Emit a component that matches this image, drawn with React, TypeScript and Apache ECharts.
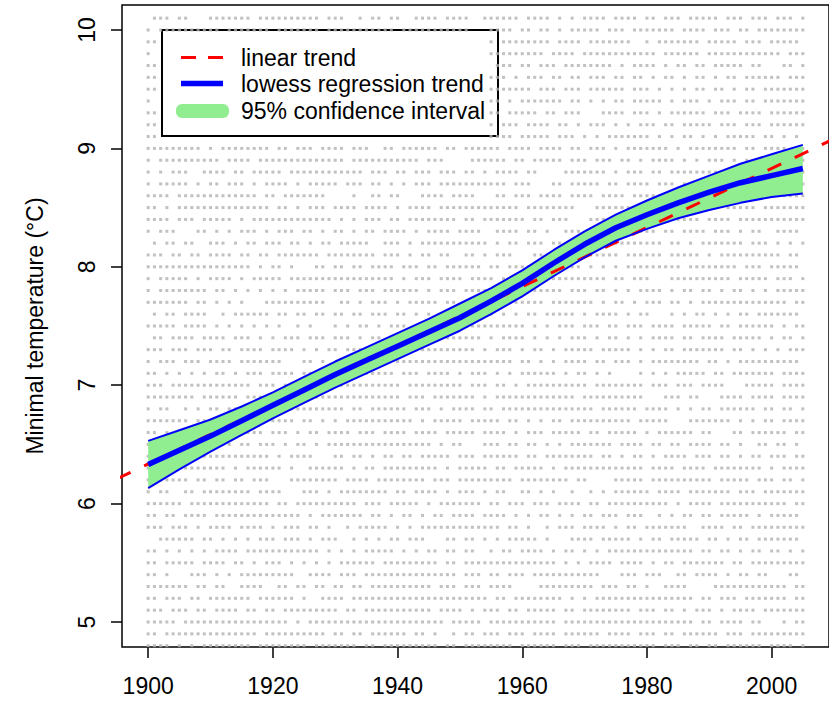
import React, { useEffect, useRef } from "react";
import * as echarts from "echarts";

// ---------- data ----------
const xTickValues = [1900, 1920, 1940, 1960, 1980, 2000];
const yTickValues = [5, 6, 7, 8, 9, 10];

// lowess regression trend and its 95% confidence interval
const bandYears = [1900, 1905, 1910, 1915, 1920, 1925, 1930, 1935, 1940, 1945, 1950, 1955, 1960, 1965, 1970, 1975, 1980, 1985, 1990, 1995, 2000, 2005];
const lowessValues = [6.33, 6.45, 6.57, 6.7, 6.83, 6.96, 7.09, 7.21, 7.33, 7.45, 7.57, 7.71, 7.86, 8.03, 8.19, 8.33, 8.44, 8.54, 8.63, 8.71, 8.77, 8.83];
const upperValues = [6.53, 6.62, 6.71, 6.82, 6.94, 7.07, 7.2, 7.32, 7.44, 7.56, 7.69, 7.82, 7.97, 8.14, 8.3, 8.44, 8.56, 8.67, 8.77, 8.87, 8.95, 9.03];
const lowerValues = [6.13, 6.29, 6.44, 6.58, 6.72, 6.85, 6.98, 7.1, 7.22, 7.34, 7.46, 7.6, 7.75, 7.92, 8.08, 8.22, 8.32, 8.41, 8.48, 8.54, 8.59, 8.62];

// linear trend (end points of the fitted line)
const trendYears = [1895, 2010];
const trendValues = [6.21, 9.08];

// observations: one row per temperature value, one char per year ("1" = observed)
const rowTemps = [10.1, 10.0, 9.9, 9.8, 9.7, 9.6, 9.5, 9.4, 9.3, 9.2, 9.1, 9.0, 8.9, 8.8, 8.7, 8.6, 8.5, 8.4, 8.3, 8.2, 8.1, 8.0, 7.9, 7.8, 7.7, 7.6, 7.5, 7.4, 7.3, 7.2, 7.1, 7.0, 6.9, 6.8, 6.7, 6.6, 6.5, 6.4, 6.3, 6.2, 6.1, 6.0, 5.9, 5.8, 5.7, 5.6, 5.5, 5.4, 5.3, 5.2, 5.1, 5.0, 4.9, 4.8];
const firstEarlyYear = 1900; // years 1900-1951
const firstLateYear = 1952; // years 1952-2005
const dotsEarly = [
  "0111011000111111101111111111011100101101100111101111",
  "1011111111110111111101111111011111111111011111111111",
  "11", "10", "11", "11", "11", "10", "11", "11", "11",
  "1111111110101111111101101110111101110011011111101101",
  "1011111111110111101111111111111101111111111101110000",
  "1010111001111011011111011111111111101110110111011101",
  "1011111010110111010111101011111011101101010111011111",
  "1111011111111111110110111111100001001101100011110111",
  "1101011111111111111101101011101111011110101111011111",
  "1111011101111101011111111111110101011101101111111101",
  "1011100011010101110101110110101101011011110101111011",
  "0101101100111010110111011010110111110011101011111111",
  "1110110110111101101101111111011111111011101011011001",
  "1111111111111111101011010001101101101111011101101111",
  "1011111010111101011111011111111111111111010111011110",
  "1011111111011010101010101111101110111011111101011101",
  "1111111011010101000111111111100110101110101111101101",
  "0101101111001011111101101101101101101110110101001111",
  "1111101111010101010101001010001010110101110111111111",
  "0110111101111011101010111011101110101101111111111111",
  "1110111011101101111011110101011011110111110111111111",
  "1011101110111101111111000110100011011010111111111111",
  "1101010101011010111011110111011111111111011101111010",
  "1110111111111111101110110111111111111111101111111110",
  "1111111101111110111010101111111111111111101110111111",
  "1011001010110111111111111111111101101111110111010111",
  "1111111011011111111111110110101011111111111010111110",
  "1101010111111011111011101011011110111011110111101111",
  "1111111111111101101110101101011111111111111111010110",
  "1111111111111111111101011110001101101011011011111011",
  "1111111111111010111111010011111101011011111111101011",
  "1111111011011011011100011111111011110111111110111011",
  "1011001101111111101111000111010111111110110111101011",
  "1111110111111111111101101111111111011101111101011111",
  "1101101111011111111111111010111111101101011010110111",
  "1110111010111101111010111011010010111110101011111111",
  "0011111101101010101110111010111001010101101110001101",
  "1101010101011110111111111111010101011111010101101101",
  "1101111101111011010111010101010111111011111111101101",
  "1101000111010101111111110011110111011111111111111101",
  "1111111011011001111001101101101101101111111111011101",
  "1101110110111111101111110100111101111111111111111111",
  "1110111011011110110110111111111011011111111111011110",
  "1111101111111111111111101011111111111111111111110111",
  "1101111111111111110111111111101101101111110110100101",
  "1111010101111111101111111101111111011011111111101101",
];
const dotsLate = [
  "001111110111101010111101111011011101111101110111011101",
  "000111101101101011111011101111111011110111011011111111",
  "000101111111101111011111110010111111101111101110111110",
  "000111111111011110111111111111011111101111111111110111",
  "000011101101110111111110101111010110110111110110001101",
  "000111010111011011011101101101011010110101101111110111",
  "000111111101110111011111101110101010110110101101111111",
  "000110101111111011010101101111101011101011101101111111",
  "000110111110110111000111101110101111110111011110111111",
  "000101110111101101011101010111011011111011101110111111",
  "000111101111101110101011111110101011010101111101101010",
  "111110111101111011011101011111110101111111101101111011",
  "111111011011111011101110110101111010101110101011011111",
  "101011110110000111111101011101101111111111011011011101",
  "111111011100011011111011011110111010100011110111101111",
  "100011011101111011110111101111110111111011110111111111",
  "111111110111111110001111111111111011111101111101111111",
  "101111111011011100011101111011110111101111011111111111",
  "110011110110100111011111111111011011110111010110011110",
  "111010110111011011111111111111101101011111110111010101",
  "101011100011110100111111011111101111101011111111110110",
  "110110111111111011010101011111111101111111101110111110",
  "111101111111111111111101101110001111111111011111011101",
  "111111111111111011101101010111101011011010110101011111",
  "111111111111011111110101101011101101011111111111111011",
  "111101010110111110101111010110001010110101011011111110",
  "111111111010101110111011011101111011111011011111101011",
  "110101111010101011101011010101111011011110111110101101",
  "101011101011010111110111110101011011111110110101010111",
  "111111101101010111101101110101111111101101011111111110",
  "111010101111110101101010000101010111110110111111101111",
  "111011010111111111101111111101110111011110001111101111",
  "101011111111111110111111111100011101100011110111101111",
  "101101111111111111110111111011110101011011111101101101",
  "111110110101011011111111110111110001111111010101101111",
  "101111010111011111011011111010111111011000110111111011",
  "001110110110101011111110111101101101111011010011011010",
  "101111110110111111110110101101011110111011010110111011",
  "111011011111010111111111111101111011110111111110101111",
  "111111101111111101100001111101111111111011111011101101",
  "101011001101010010010101111110111101111111011101111111",
  "110110111011101111011011111111110101111011111111111011",
  "101111010101101010110111011100101011011011111010111110",
  "111110110100101110111101011011111110011110110111111111",
  "101010111110100011110111110101101111101101011011111110",
  "100101101111010110101011111111111111011011010110110101",
  "111111111111110101011110111101011011111110110111111111",
  "110110111011111111111000111011100110111101011011000110",
  "110111100001111111110111011010011110000111111111111011",
  "111011011111111010101111111111111111011011101111111011",
  "101110110111110110111111110111011010111010111101111111",
  "110111111111110111111111111111111111011011110110001011",
  "101110111011110111111011110111011011111101110111111111",
  "111111101111110111011111111111011101101101111110111101",
];

const FONT = "'Liberation Sans', Arial, sans-serif";
const FS = 23;

function buildObservations(): number[][] {
  const pts: number[][] = [];
  rowTemps.forEach((t, r) => {
    const early = dotsEarly[r] || "";
    for (let i = 0; i < early.length; i++) if (early[i] === "1") pts.push([firstEarlyYear + i, t]);
    const late = dotsLate[r] || "";
    for (let j = 0; j < late.length; j++) if (late[j] === "1") pts.push([firstLateYear + j, t]);
  });
  return pts;
}

const pairs = (xs: number[], ys: number[]) => xs.map((x, i) => [x, ys[i]]);

export default function App() {
  const ref = useRef<HTMLDivElement>(null);
  useEffect(() => {
    document.body.style.margin = "0";
    if (!ref.current) return;
    const chart = echarts.init(ref.current, undefined, { renderer: "svg" });
    const option: any = {
      animation: false,
      backgroundColor: "#ffffff",
      grid: { left: 122, top: 5, right: -15, bottom: 55, show: true, borderColor: "#000", borderWidth: 1.5, backgroundColor: "transparent" },
      xAxis: {
        type: "value", min: 1895.8, max: 2009.2,
        axisLine: { show: false }, splitLine: { show: false },
        axisTick: { show: true, length: 11, lineStyle: { color: "#000", width: 1.5 }, customValues: xTickValues },
        axisLabel: { customValues: xTickValues, formatter: (v: number) => String(v), fontSize: FS, fontFamily: FONT, color: "#000", margin: 27 },
      },
      yAxis: {
        type: "value", min: 4.789, max: 10.211,
        name: "Minimal temperature (°C)", nameLocation: "middle", nameGap: 76, nameRotate: 90,
        nameTextStyle: { fontSize: FS, fontFamily: FONT, color: "#000" },
        axisLine: { show: false }, splitLine: { show: false },
        axisTick: { show: true, length: 11, lineStyle: { color: "#000", width: 1.5 }, customValues: yTickValues },
        axisLabel: { customValues: yTickValues, formatter: (v: number) => String(v), rotate: 90, fontSize: FS, fontFamily: FONT, color: "#000", margin: 24 },
      },
      series: [
        {
          name: "observations", type: "scatter", z: 1, silent: true,
          symbol: "rect", symbolSize: [3, 3],
          itemStyle: { color: "#b2b2b2" },
          data: buildObservations(),
        },
        {
          name: "95% confidence interval", type: "custom", z: 2, silent: true, clip: true,
          data: [[bandYears[0], upperValues[0]]],
          renderItem: (params: any, api: any) => {
            if (params.dataIndex !== 0) return null;
            const top = bandYears.map((y, i) => api.coord([y, upperValues[i]]));
            const bottom = bandYears.map((y, i) => api.coord([y, lowerValues[i]])).reverse();
            return { type: "polygon", shape: { points: top.concat(bottom) }, style: { fill: "#90EE90" } };
          },
        },
        {
          name: "linear trend", type: "line", z: 3, silent: true, symbol: "none",
          lineStyle: { color: "#ff0000", width: 3, type: [15, 15] },
          data: pairs(trendYears, trendValues),
        },
        {
          name: "upper", type: "line", z: 4, silent: true, symbol: "none",
          lineStyle: { color: "#0000ff", width: 2 }, data: pairs(bandYears, upperValues),
        },
        {
          name: "lower", type: "line", z: 4, silent: true, symbol: "none",
          lineStyle: { color: "#0000ff", width: 2 }, data: pairs(bandYears, lowerValues),
        },
        {
          name: "lowess regression trend", type: "line", z: 5, silent: true, symbol: "none",
          lineStyle: { color: "#0000ff", width: 5.5 }, data: pairs(bandYears, lowessValues),
        },
      ],
      graphic: [
        {
          type: "group", left: 161, top: 29, z: 100,
          children: [
            { type: "rect", shape: { x: 0, y: 0, width: 336, height: 106 }, style: { fill: "#fff", stroke: "#000", lineWidth: 2 } },
            { type: "line", shape: { x1: 19, y1: 27.5, x2: 61, y2: 27.5 }, style: { stroke: "#ff0000", lineWidth: 3, lineDash: [15, 12] } },
            { type: "line", shape: { x1: 19, y1: 53.5, x2: 61, y2: 53.5 }, style: { stroke: "#0000ff", lineWidth: 5.5 } },
            { type: "rect", shape: { x: 14, y: 74, width: 53, height: 14, r: 6 }, style: { fill: "#90EE90" } },
            { type: "text", x: 79, y: 28, style: { text: "linear trend", font: `${FS}px ${FONT}`, fill: "#000", textVerticalAlign: "middle" } },
            { type: "text", x: 79, y: 54, style: { text: "lowess regression trend", font: `${FS}px ${FONT}`, fill: "#000", textVerticalAlign: "middle" } },
            { type: "text", x: 79, y: 81, style: { text: "95% confidence interval", font: `${FS}px ${FONT}`, fill: "#000", textVerticalAlign: "middle" } },
          ],
        },
      ],
    };
    chart.setOption(option);
    return () => chart.dispose();
  }, []);
  return <div ref={ref} style={{ position: "fixed", left: 0, top: 0, width: 829, height: 702 }} />;
}
